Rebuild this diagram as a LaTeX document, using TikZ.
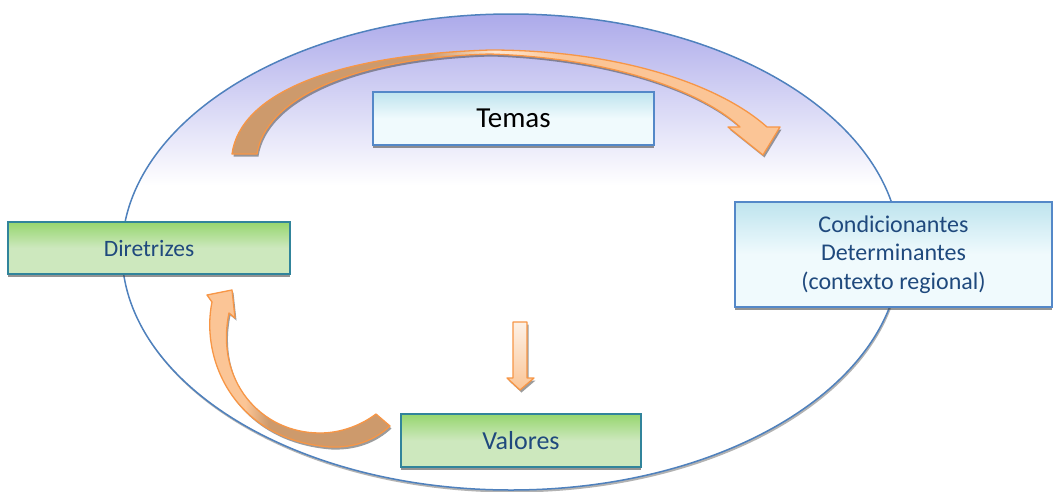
\documentclass[tikz,border=0pt]{standalone}
\usepackage{fontspec}
\setmainfont{Carlito}
\usetikzlibrary{shadows}

\definecolor{ovalline}{RGB}{79,129,189}
\definecolor{lavender}{RGB}{172,170,234}
\definecolor{textblue}{RGB}{31,73,125}
\definecolor{boxblue}{RGB}{84,136,200}
\definecolor{boxteal}{RGB}{49,132,155}
\definecolor{greentop}{RGB}{150,214,110}
\definecolor{greenbot}{RGB}{205,232,190}
\definecolor{cyantop}{RGB}{190,228,238}
\definecolor{cyanbot}{RGB}{240,250,253}
\definecolor{arroworange}{RGB}{247,150,70}
\definecolor{arrowpeach}{RGB}{251,197,150}
\definecolor{arrowpale}{RGB}{252,232,214}
\definecolor{arrowbrown}{RGB}{205,154,108}

\pgfdeclareverticalshading{ovalfade}{100bp}{color(0bp)=(white); color(57bp)=(white); color(75bp)=(lavender); color(100bp)=(lavender)}
\pgfdeclarehorizontalshading{topbend}{100bp}{color(0bp)=(arrowbrown); color(43bp)=(arrowbrown); color(49bp)=(arrowpale); color(55bp)=(arrowpeach); color(100bp)=(arrowpeach)}
\pgfdeclarehorizontalshading{lowbend}{100bp}{color(0bp)=(arrowpeach); color(37bp)=(arrowpeach); color(43bp)=(arrowbrown); color(100bp)=(arrowbrown)}

\begin{document}
\begin{tikzpicture}[x=1pt, y=-1pt,
    boxshadow/.style={drop shadow={shadow xshift=0pt, shadow yshift=-3pt, fill=black!70, opacity=.6}},
    bluebox/.style={draw=boxblue, line width=1.5pt, top color=cyantop, bottom color=cyanbot, middle color=cyanbot, boxshadow, text=textblue},
    greenbox/.style={draw=boxteal, line width=1.8pt, top color=greentop, bottom color=greenbot, middle color=greenbot, boxshadow, text=textblue},
    bentarrow/.style={draw=arroworange, line width=1.3pt, line join=round, drop shadow={shadow xshift=1.5pt, shadow yshift=-2.5pt, fill=black!70, opacity=.55}}]
    \useasboundingbox (0,0) rectangle (1054,491);

    % Oval background
    \shadedraw[draw=ovalline, line width=1.5pt, shading=ovalfade,
        drop shadow={shadow xshift=1pt, shadow yshift=-2.5pt, fill=black!60, opacity=.5}]
        (511,252) ellipse [x radius=389pt, y radius=238pt];

    % Bent arrow over the top
    \shadedraw[bentarrow, shading=topbend]
        (232,154) .. controls (240,95) and (330,55) .. (490,50)
        .. controls (620,50) and (720,85) .. (767,127)
        -- (780,127) -- (763,155) -- (728,127) -- (740,127)
        .. controls (700,90) and (610,58) .. (490,54)
        .. controls (350,58) and (265,100) .. (257,154) -- cycle;

    % Bent arrow at the lower left
    \shadedraw[bentarrow, shading=lowbend]
        (212,302) .. controls (200,360) and (235,440) .. (330,447)
        .. controls (355,448) and (375,440) .. (390,426)
        -- (376,414) .. controls (360,426) and (340,433) .. (320,433)
        .. controls (260,433) and (215,380) .. (229,313)
        -- (235,318) -- (232,290) -- (207,295) -- cycle;

    % Straight arrow down
    \draw[bentarrow, top color=arrowpale!60!white, bottom color=arrowpeach]
        (513,322) -- (527,322) -- (527,378) -- (534,378) -- (520,390)
        -- (507,378) -- (513,378) -- cycle;

    % Boxes
    \node[bluebox, minimum width=281, minimum height=53, text=black,
        font=\fontsize{29}{34}\selectfont] (temas) at (513.5,118.5) {Temas};
    \node[greenbox, minimum width=282, minimum height=52,
        font=\fontsize{23.5}{28}\selectfont] (diretrizes) at (149,248) {Diretrizes};
    \node[bluebox, minimum width=317, minimum height=105, align=center,
        font=\fontsize{24}{28.5}\selectfont] (condicionantes) at (893.5,254.5)
        {Condicionantes\\Determinantes\\(contexto regional)};
    \node[greenbox, minimum width=240, minimum height=53,
        font=\fontsize{26}{31}\selectfont] (valores) at (521,440.5) {Valores};
\end{tikzpicture}
\end{document}
